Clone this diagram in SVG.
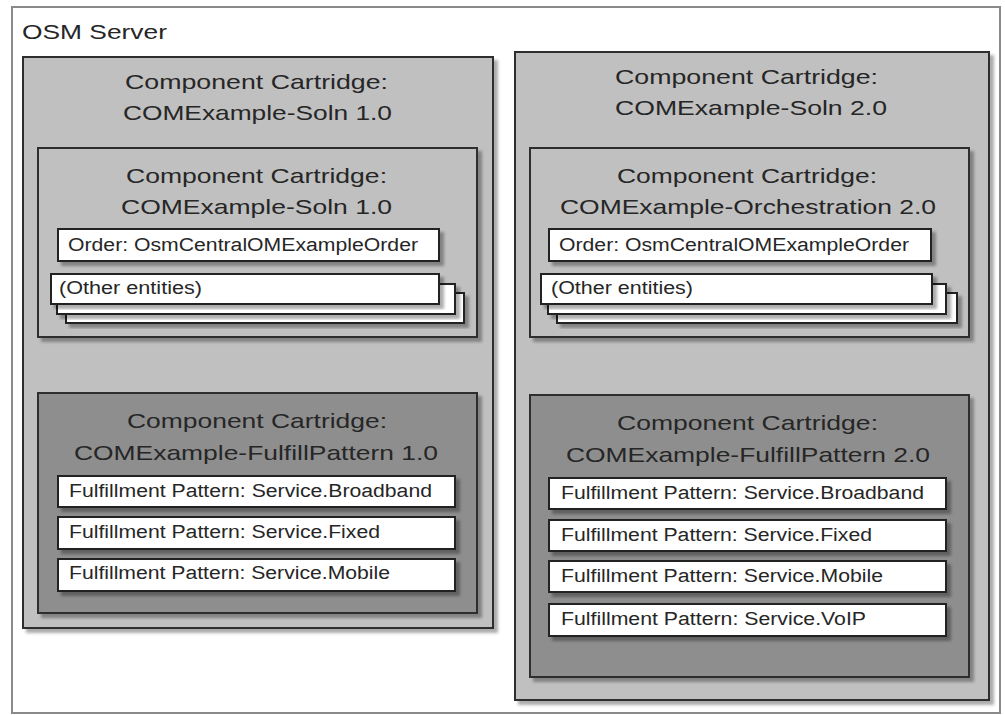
<svg xmlns="http://www.w3.org/2000/svg" width="1005" height="715" viewBox="0 0 1005 715">
<defs>
<filter id="sh" x="-5%" y="-5%" width="115%" height="125%">
<feDropShadow dx="4" dy="4" stdDeviation="1.8" flood-color="#000" flood-opacity="0.32"/>
</filter>
</defs>
<style>
text{font-family:"Liberation Sans",Arial,sans-serif;fill:#262626}
.h{font-size:21px}
.s{font-size:18px}
.big{fill:#c0c0c0;stroke:#2e2e2e;stroke-width:2;filter:url(#sh)}
.dark{fill:#8e8e8e;stroke:#2e2e2e;stroke-width:2;filter:url(#sh)}
.w{fill:#fff;stroke:#222;stroke-width:2;filter:url(#sh)}
</style>
<rect width="1005" height="715" fill="#fff"/>
<g id="osm-server">
<rect x="12" y="7" width="988" height="706" fill="#fff" stroke="#8a8a8a" stroke-width="2"/>
<text class="h" x="22" y="39" textLength="145" lengthAdjust="spacingAndGlyphs">OSM Server</text>
</g>
<g id="soln-1">
<rect class="big" x="23" y="57" width="470" height="571"/>
<text class="h" x="125" y="89" textLength="263" lengthAdjust="spacingAndGlyphs">Component Cartridge:</text>
<text class="h" x="123" y="120" textLength="269" lengthAdjust="spacingAndGlyphs">COMExample-Soln 1.0</text>
</g>
<g id="soln-1-inner">
<rect class="big" x="38" y="148" width="439" height="189"/>
<text class="h" x="126" y="183" textLength="261" lengthAdjust="spacingAndGlyphs">Component Cartridge:</text>
<text class="h" x="121" y="214" textLength="271" lengthAdjust="spacingAndGlyphs">COMExample-Soln 1.0</text>
</g>
<g id="order-1">
<rect class="w" x="58" y="229" width="381" height="32"/>
<text class="s" x="68" y="251" textLength="350" lengthAdjust="spacingAndGlyphs">Order: OsmCentralOMExampleOrder</text>
</g>
<g id="other-1">
<rect class="w" x="66" y="293" width="398" height="30"/>
<rect class="w" x="57" y="284" width="398" height="30"/>
<rect class="w" x="51" y="274" width="388" height="30"/>
<text class="s" x="59" y="294" textLength="143" lengthAdjust="spacingAndGlyphs">(Other entities)</text>
</g>
<g id="fp-1">
<rect class="dark" x="38" y="393" width="439" height="220"/>
<text class="h" x="127" y="428" textLength="260" lengthAdjust="spacingAndGlyphs">Component Cartridge:</text>
<text class="h" x="74" y="460" textLength="364" lengthAdjust="spacingAndGlyphs">COMExample-FulfillPattern 1.0</text>
</g>
<g id="fp-1-broadband">
<rect class="w" x="58" y="476" width="397" height="31"/>
<text class="s" x="69" y="497" textLength="363" lengthAdjust="spacingAndGlyphs">Fulfillment Pattern: Service.Broadband</text>
</g>
<g id="fp-1-fixed">
<rect class="w" x="58" y="517" width="397" height="32"/>
<text class="s" x="69" y="538" textLength="311" lengthAdjust="spacingAndGlyphs">Fulfillment Pattern: Service.Fixed</text>
</g>
<g id="fp-1-mobile">
<rect class="w" x="58" y="559" width="397" height="32"/>
<text class="s" x="69" y="579" textLength="321" lengthAdjust="spacingAndGlyphs">Fulfillment Pattern: Service.Mobile</text>
</g>
<g id="soln-2">
<rect class="big" x="515" y="52" width="474" height="648"/>
<text class="h" x="615" y="84" textLength="263" lengthAdjust="spacingAndGlyphs">Component Cartridge:</text>
<text class="h" x="615" y="115" textLength="272" lengthAdjust="spacingAndGlyphs">COMExample-Soln 2.0</text>
</g>
<g id="orch-2">
<rect class="big" x="530" y="148" width="439" height="189"/>
<text class="h" x="617" y="183" textLength="260" lengthAdjust="spacingAndGlyphs">Component Cartridge:</text>
<text class="h" x="560" y="214" textLength="376" lengthAdjust="spacingAndGlyphs">COMExample-Orchestration 2.0</text>
</g>
<g id="order-2">
<rect class="w" x="549" y="229" width="382" height="32"/>
<text class="s" x="559" y="251" textLength="350" lengthAdjust="spacingAndGlyphs">Order: OsmCentralOMExampleOrder</text>
</g>
<g id="other-2">
<rect class="w" x="557" y="293" width="400" height="30"/>
<rect class="w" x="548" y="284" width="398" height="30"/>
<rect class="w" x="541" y="274" width="391" height="30"/>
<text class="s" x="551" y="294" textLength="142" lengthAdjust="spacingAndGlyphs">(Other entities)</text>
</g>
<g id="fp-2">
<rect class="dark" x="530" y="395" width="439" height="282"/>
<text class="h" x="617" y="430" textLength="261" lengthAdjust="spacingAndGlyphs">Component Cartridge:</text>
<text class="h" x="566" y="462" textLength="364" lengthAdjust="spacingAndGlyphs">COMExample-FulfillPattern 2.0</text>
</g>
<g id="fp-2-broadband">
<rect class="w" x="549" y="478" width="397" height="31"/>
<text class="s" x="561" y="499" textLength="363" lengthAdjust="spacingAndGlyphs">Fulfillment Pattern: Service.Broadband</text>
</g>
<g id="fp-2-fixed">
<rect class="w" x="549" y="520" width="397" height="31"/>
<text class="s" x="561" y="541" textLength="311" lengthAdjust="spacingAndGlyphs">Fulfillment Pattern: Service.Fixed</text>
</g>
<g id="fp-2-mobile">
<rect class="w" x="549" y="561" width="397" height="31"/>
<text class="s" x="561" y="582" textLength="322" lengthAdjust="spacingAndGlyphs">Fulfillment Pattern: Service.Mobile</text>
</g>
<g id="fp-2-voip">
<rect class="w" x="549" y="604" width="397" height="32"/>
<text class="s" x="561" y="625" textLength="305" lengthAdjust="spacingAndGlyphs">Fulfillment Pattern: Service.VoIP</text>
</g>
<g id="connectors"/>
</svg>
